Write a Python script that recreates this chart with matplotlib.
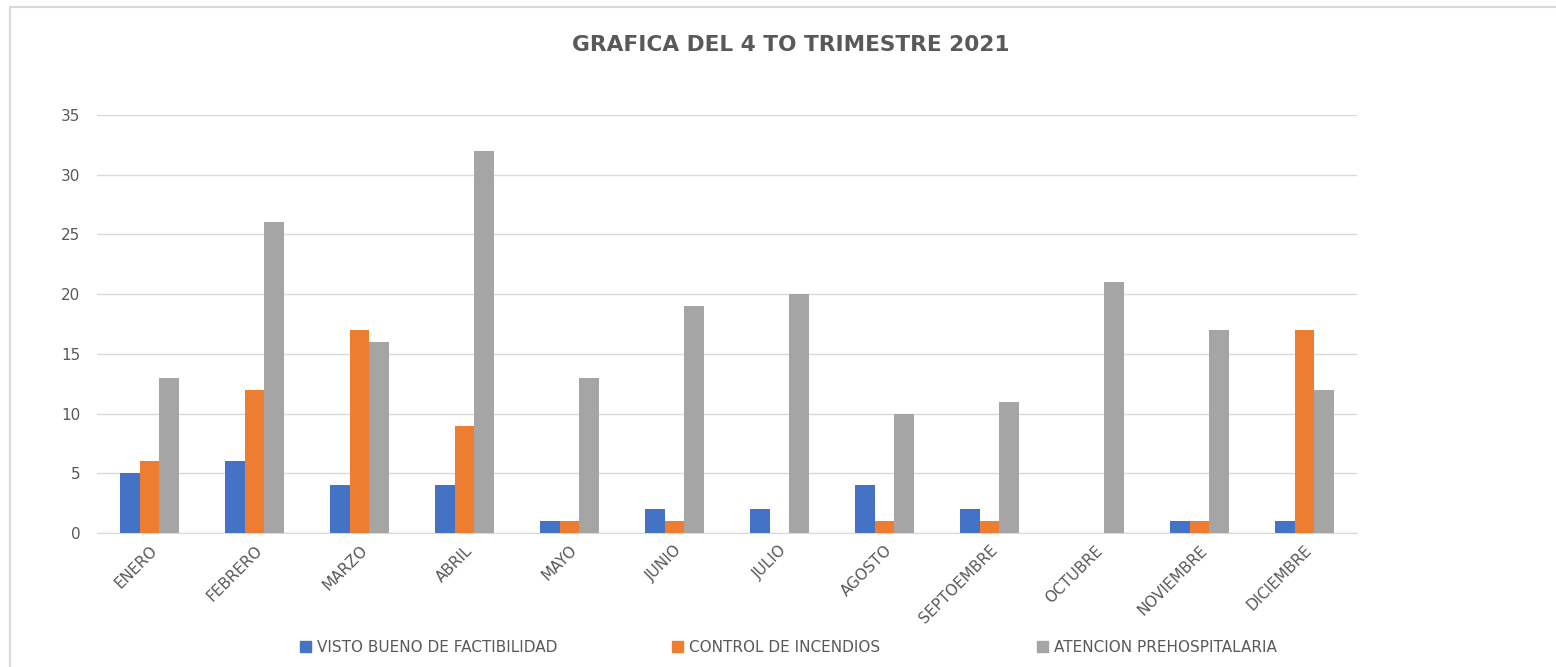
import numpy as np
import matplotlib.pyplot as plt
from matplotlib.lines import Line2D

meses = ['ENERO', 'FEBRERO', 'MARZO', 'ABRIL', 'MAYO', 'JUNIO', 'JULIO',
         'AGOSTO', 'SEPTOEMBRE', 'OCTUBRE', 'NOVIEMBRE', 'DICIEMBRE']
visto_bueno = [5, 6, 4, 4, 1, 2, 2, 4, 2, 0, 1, 1]
control_incendios = [6, 12, 17, 9, 1, 1, 0, 1, 1, 0, 1, 17]
atencion_prehosp = [13, 26, 16, 32, 13, 19, 20, 10, 11, 21, 17, 12]

series = [
    ('VISTO BUENO DE FACTIBILIDAD', visto_bueno, '#4472C4'),
    ('CONTROL DE INCENDIOS', control_incendios, '#ED7D31'),
    ('ATENCION PREHOSPITALARIA', atencion_prehosp, '#A5A5A5'),
]

W, H = 1556, 667
fig = plt.figure(figsize=(W / 100, H / 100), dpi=100)
ax = fig.add_axes([97 / W, 1 - 533 / H, 1260 / W, (533 - 115) / H])

x = np.arange(len(meses))
bw = 0.19
for i, (name, vals, col) in enumerate(series):
    ax.bar(x + (i - 1) * bw, vals, bw, color=col, label=name, zorder=3)

ax.set_xlim(-0.5, len(meses) - 0.5)
ax.set_ylim(0, 35)
ax.set_yticks(range(0, 36, 5))
ax.grid(axis='y', color='#D9D9D9', linewidth=1, zorder=0)
for s in ['top', 'right', 'left']:
    ax.spines[s].set_visible(False)
ax.spines['bottom'].set_color('#D9D9D9')
ax.tick_params(axis='both', length=0, colors='#595959', labelsize=11)
ax.tick_params(axis='y', pad=12)
ax.set_xticks(x)
ax.set_xticklabels(meses, rotation=45, ha='right', rotation_mode='anchor')
ax.tick_params(axis='x', pad=7)

fig.text(791 / W, 1 - 45 / H, 'GRAFICA DEL 4 TO TRIMESTRE 2021', ha='center',
         va='center', fontsize=15.6, fontweight='bold', color='#595959')

# legend entries placed one by one (uneven spacing in the original)
leg_x = [300, 672, 1037]
for (name, _, col), lx in zip(series, leg_x):
    leg = fig.legend([plt.Rectangle((0, 0), 1, 1, color=col)], [name],
                     loc='center left', bbox_to_anchor=(lx / W, 1 - 647 / H),
                     frameon=False, fontsize=11, handlelength=0.7,
                     handleheight=0.7, handletextpad=0.4, borderpad=0,
                     borderaxespad=0, labelcolor='#595959')

# chart border (top and left visible)
fig.add_artist(Line2D([10 / W, 1], [1 - 7 / H, 1 - 7 / H], color='#D9D9D9', lw=1.5))
fig.add_artist(Line2D([10 / W, 10 / W], [0, 1 - 7 / H], color='#D9D9D9', lw=1.5))

fig.savefig('out.png', dpi=100)
